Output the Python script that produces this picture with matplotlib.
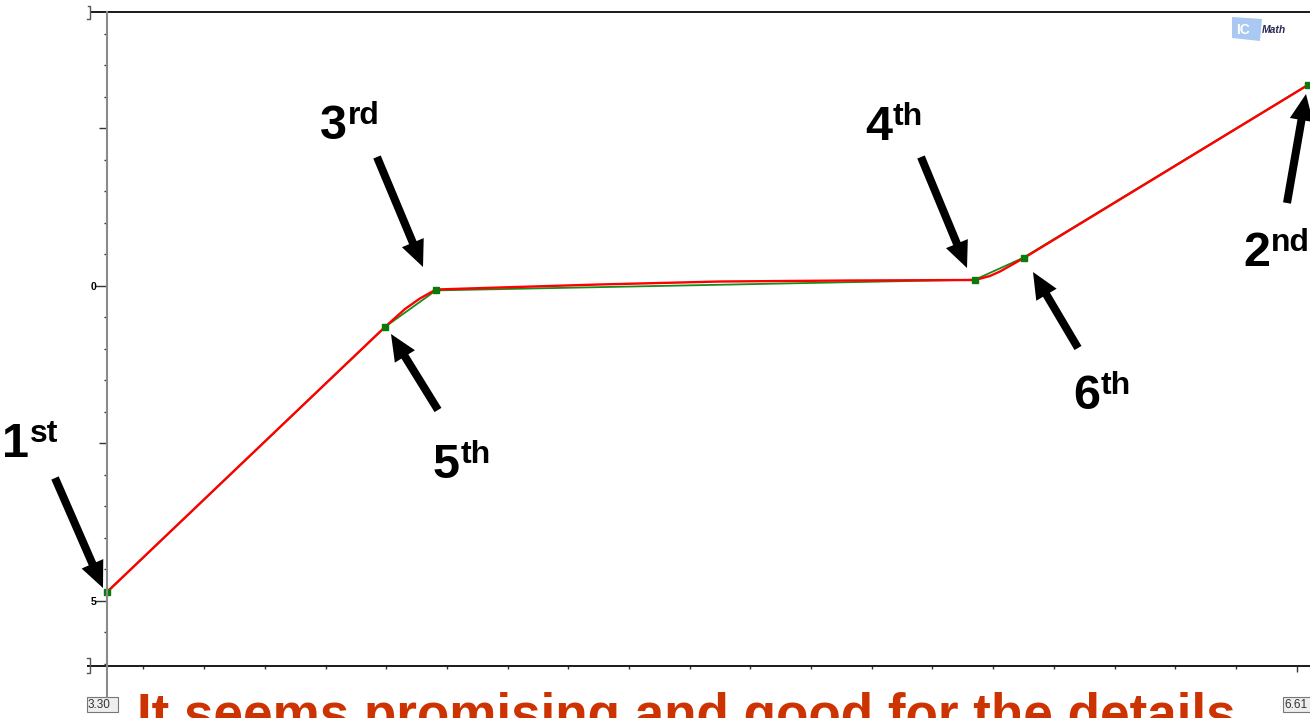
import matplotlib
matplotlib.use("Agg")
import matplotlib.pyplot as plt
from matplotlib.lines import Line2D
from matplotlib.patches import FancyArrowPatch, Polygon, Rectangle, ArrowStyle
import numpy as np

plt.rcParams["font.family"] = ["Liberation Sans", "DejaVu Sans"]

W, H = 1310, 718

# key points (green markers)
point_x = [-3.30, -1.01, -0.59, 3.85, 4.25, 6.59]
point_y = [-4.86, -0.65, -0.07, 0.10, 0.45, 3.19]

# red curve
curve_x = [-3.30, -1.01, -0.845, -0.722, -0.59, -0.063, 0.761, 1.749, 2.82, 3.85, 3.974, 4.056, 4.253, 6.593]
curve_y = [-4.857, -0.651, -0.365, -0.198, -0.056, -0.024, 0.024, 0.071, 0.087, 0.095, 0.159, 0.230, 0.444, 3.19]

x_range = (-3.30, 6.61)
y_range = (-6.032, 4.349)
y_tick_vals = [-5, -2.5, 0, 2.5]
y_tick_labels = ["5", "", "0", ""]
x_end_labels = ["3.30", "6.61"]

# labels: digit, suffix, left x px, baseline y px
ordinals = [
    ("1", "st", 2, 457),
    ("3", "rd", 320, 139),
    ("4", "th", 865, 140),
    ("5", "th", 433, 478),
    ("6", "th", 1073, 409),
    ("2", "nd", 1243, 266),
]
# arrows: tail -> tip in image px
arrows = [
    ((55, 478), (103, 588)),
    ((377, 157), (423, 267)),
    ((921, 157), (967, 268)),
    ((438, 410), (391, 334)),
    ((1078, 348), (1033, 272)),
    ((1287, 203), (1306, 94)),
]
caption = "It seems promising and good for the details"


def fp(x, y):
    return x / W, 1 - y / H


fig = plt.figure(figsize=(W / 100, H / 100), dpi=100)
ax = fig.add_axes([107 / W, (H - 666) / H, (W - 107) / W, (666 - 12) / H])
ax.set_xlim(*x_range)
ax.set_ylim(*y_range)
for s in ax.spines.values():
    s.set_visible(False)

ax.plot(point_x, point_y, color="#1a8a1a", lw=1.3, zorder=2)
ax.plot(curve_x, curve_y, color="#ff0000", lw=1.7, zorder=3)
ax.plot(point_x, point_y, ls="none", marker="s", ms=4, color="#0a7a0a", zorder=4, clip_on=False)

# y ticks
ax.set_yticks(y_tick_vals, labels=y_tick_labels)
ax.set_yticks(np.arange(-6.0, 4.01, 0.5), minor=True)
ax.tick_params(axis="y", which="major", length=5.8, width=1, color="#333333", pad=2,
               labelsize=7.5)
ax.tick_params(axis="y", which="minor", length=2.2, width=1, color="#333333")
for lab in ax.get_yticklabels():
    lab.set_fontweight("bold")
for i in (0, 2):
    ax.yaxis.get_major_ticks()[i].tick1line.set_markersize(8.6)

# x ticks
ax.set_xticks([6.5], labels=[""])
ax.set_xticks(np.arange(-3.0, 6.01, 0.5), minor=True)
ax.tick_params(axis="x", which="major", length=4, width=1, color="#333333")
ax.tick_params(axis="x", which="minor", length=2.2, width=1, color="#333333")

# frame lines
frame = [
    ((91, 12), (1310, 12), "#1a1a1a", 1.4),
    ((88, 666), (1310, 666), "#1a1a1a", 1.4),
    ((107, 12), (107, 697), "#8a8a8a", 1.5),
]
for (x0, y0), (x1, y1), c, lw in frame:
    a, b = fp(x0, y0), fp(x1, y1)
    fig.add_artist(Line2D([a[0], b[0]], [a[1], b[1]], color=c, lw=lw, transform=fig.transFigure))

# small brackets at left ends
for pts in ([(88, 6), (90, 6), (90, 19), (87, 19)], [(87, 658), (90, 658), (90, 673), (87, 673)]):
    xs, ys = zip(*[fp(*p) for p in pts])
    fig.add_artist(Line2D(xs, ys, color="#555555", lw=1.0, transform=fig.transFigure))

# end value boxes
for lab, x0, x1 in [(x_end_labels[0], 87, 118), (x_end_labels[1], 1283, 1312)]:
    bx, by = fp(x0, 712)
    fig.add_artist(Rectangle((bx, by), (x1 - x0) / W, 15 / H, transform=fig.transFigure,
                             facecolor="#eeeeee", edgecolor="#777777", lw=0.8))
    fig.text(*fp(x0 + 1, 705), lab, fontsize=8.5, va="center", ha="left", color="#333333")

# logo
poly = [fp(1232, 17), fp(1262, 19), fp(1260, 41), fp(1232, 38)]
fig.add_artist(Polygon(poly, closed=True, transform=fig.transFigure, facecolor="#a9c8f2",
                       edgecolor="none"))
fig.text(*fp(1236, 30), "IC", fontsize=10, fontweight="bold", color="white", va="center")
fig.text(*fp(1262, 30), "Math", fontsize=7.5, fontweight="bold", style="italic",
         color="#2b2b55", va="center")

# arrows
style = ArrowStyle.Simple(head_length=19, head_width=17, tail_width=5.8)
for (t, h) in arrows:
    fig.add_artist(FancyArrowPatch(fp(*t), fp(*h), transform=fig.transFigure,
                                   arrowstyle=style, mutation_scale=1, shrinkA=0, shrinkB=0,
                                   color="black", lw=0))

# ordinal labels
for digit, suffix, x, y in ordinals:
    fig.text(*fp(x, y), digit, fontsize=35, fontweight="bold", va="baseline", ha="left")
    fig.text(*fp(x + 28, y - 15), suffix, fontsize=23, fontweight="bold", va="baseline",
             ha="left")

# caption runs off the bottom edge, as in the original slide
fig.text(*fp(137, 731), caption, fontsize=38.2, fontweight="bold", color="#cc3300",
         va="baseline", ha="left")

fig.savefig("out.png", dpi=100)
